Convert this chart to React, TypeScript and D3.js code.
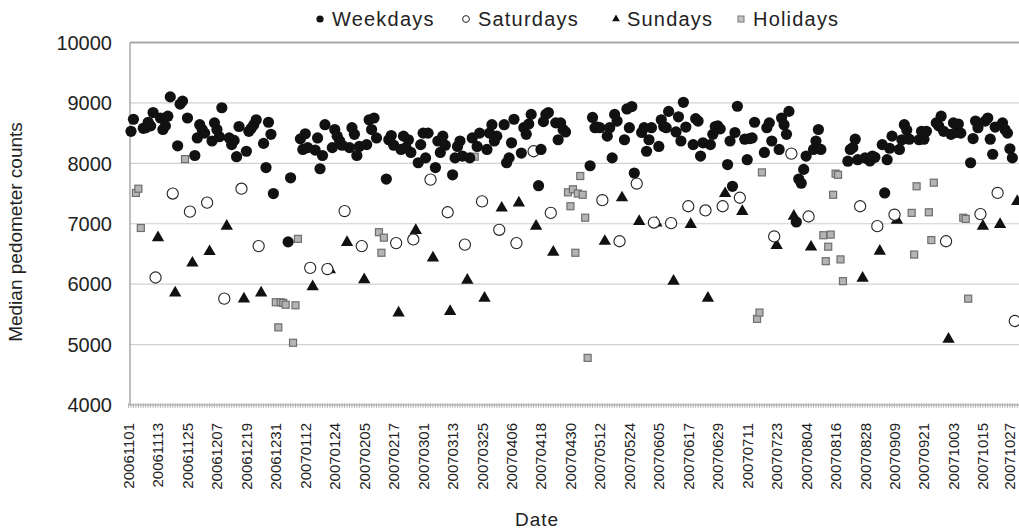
import React, { useEffect, useRef } from "react";
import * as d3 from "d3";

// daily medians, Nov 2006 - Oct 2007
const firstMonday = "20061030";

// one row per week, Mon..Fri (null = holiday / no weekday point)
const weekdayRows: (number | null)[][] = [
  [null, null, 8530, 8730, null],
  [8580, 8590, 8680, 8620, 8840],
  [8750, 8560, 8620, 8780, 9100],
  [8290, 8980, 9030, null, 8750],
  [8130, 8420, 8640, 8560, 8500],
  [8370, 8670, 8560, 8440, 8920],
  [8420, 8310, 8380, 8110, 8610],
  [8200, 8530, 8580, 8640, 8720],
  [8330, 7930, 8680, 8480, 7500],
  [null, null, null, 6700, 7760],
  [null, 8405, 8230, 8490, 8260],
  [8220, 8420, 7910, 8130, 8640],
  [8260, 8560, 8450, 8370, 8300],
  [8260, 8590, 8480, 8130, 8280],
  [8310, 8720, 8560, 8750, 8420],
  [null, 7740, 8390, 8460, 8300],
  [8230, 8450, 8260, 8390, 8180],
  [8010, 8310, 8500, 8090, 8500],
  [7930, 8370, 8180, 8450, 8300],
  [7810, 8090, 8280, 8370, 8120],
  [8090, 8420, null, 8280, 8500],
  [8230, 8500, 8640, 8370, 8450],
  [8640, 8010, 8090, 8340, 8730],
  [8170, 8590, 8480, 8650, 8810],
  [7630, 8230, 8690, 8810, 8840],
  [8670, 8390, 8670, 8560, 8520],
  [null, null, null, null, null],
  [7960, 8760, 8590, 8600, 8590],
  [8450, 8590, 8090, 8810, 8700],
  [8390, 8900, 8590, 8940, 7840],
  [8510, 8590, 8200, 8390, 8590],
  [8280, 8720, 8610, 8590, 8860],
  [8520, 8770, 8370, 9010, 8600],
  [8310, 8740, 8700, 8120, 8340],
  [8310, 8480, 8610, 8620, 8570],
  [7980, 8370, 7620, 8510, 8945],
  [8400, 8060, 8410, 8420, 8680],
  [null, 8180, 8590, 8670, 8370],
  [8230, 8750, 8640, 8480, 8860],
  [7030, 7740, 7670, 7900, 8120],
  [8230, 8370, 8560, 8230, null],
  [null, null, null, null, null],
  [8035, 8230, 8260, 8400, 8060],
  [8090, 8075, 8040, 8120, 8100],
  [8310, 7510, 8060, 8250, 8450],
  [8230, 8390, 8640, 8550, 8400],
  [null, 8390, 8530, 8400, 8530],
  [null, 8670, 8620, 8780, 8530],
  [8480, 8670, 8510, 8650, 8500],
  [null, 8010, 8410, 8700, 8590],
  [8700, 8750, 8400, 8150, 8600],
  [8670, 8560, 8500, 8240, 8090],
];

// one value per week, starting Sat 20061104 / Sun 20061105
const saturdayValues: (number | null)[] = [
  null, 6110, 7500, 7200, 7350, 5760, 7580, 6630, null, null, 6270, 6250, 7210,
  6630, null, 6680, 6740, 7730, 7190, 6655, 7370, 6900, 6680, 8200, 7180, null,
  null, 7390, 6710, 7665, 7020, 7010, 7290, 7220, 7290, 7430, null, 6790, 8160,
  7120, null, null, 7290, 6960, 7150, null, null, 6710, null, 7160, 7510, 5390,
];
const sundayValues: (number | null)[] = [
  null, 6770, 5855, 6350, 6540, 6960, 5755, 5855, null, null, 5960, 6240, 6690,
  6075, null, 5525, 6890, 6435, 5550, 6065, 5770, 7260, 7345, 6960, 6530, null,
  null, 6710, 7430, 7040, 7015, 6050, 6990, 5770, 7500, 7205, null, 6640, 7125,
  6615, null, null, 6100, 6545, 7060, null, null, 5090, null, 6960, 6990, 7370,
];

const holidayPoints: [string, number][] = [
  ["20061103", 7510], ["20061104", 7580], ["20061105", 6930], ["20061123", 8070],
  ["20061230", 5700], ["20061231", 5285], ["20070101", 5700], ["20070102", 5690],
  ["20070103", 5660], ["20070106", 5030], ["20070107", 5650], ["20070108", 6750],
  ["20070210", 6860], ["20070211", 6520], ["20070212", 6770], ["20070321", 8110],
  ["20070428", 7520], ["20070429", 7290], ["20070430", 7570], ["20070501", 6520],
  ["20070502", 7500], ["20070503", 7790], ["20070504", 7480], ["20070505", 7100],
  ["20070506", 4780], ["20070714", 5425], ["20070715", 5530], ["20070716", 7850],
  ["20070810", 6810], ["20070811", 6380], ["20070812", 6620], ["20070813", 6820],
  ["20070814", 7480], ["20070815", 7830], ["20070816", 7810], ["20070817", 6410],
  ["20070818", 6050], ["20070915", 7180], ["20070916", 6490], ["20070917", 7620],
  ["20070922", 7190], ["20070923", 6730], ["20070924", 7680], ["20071006", 7100],
  ["20071007", 7080], ["20071008", 5760],
];

const yTicks = [4000, 5000, 6000, 7000, 8000, 9000, 10000];
const tickStart = "20061101";
const tickEnd = "20071027";
const tickStepDays = 12;
const legendLabels = ["Weekdays", "Saturdays", "Sundays", "Holidays"];

const FONT = "'Liberation Sans', Arial, sans-serif";

export default function App() {
  const ref = useRef<SVGSVGElement | null>(null);

  useEffect(() => {
    const width = 1019;
    const parse = d3.timeParse("%Y%m%d");
    const fmt = d3.timeFormat("%Y%m%d");
    const start = parse(tickStart) as Date;
    const end = parse(tickEnd) as Date;
    const monday = parse(firstMonday) as Date;

    const x = d3.scaleTime().domain([start, end]).range([131, 1014.8]);
    const y = d3.scaleLinear().domain([4000, 10000]).range([405, 42.5]);

    const svg = d3.select(ref.current);
    svg.selectAll("*").remove();

    // gridlines
    svg
      .append("g")
      .selectAll("line")
      .data(yTicks.filter((t) => t > 4000 && t < 10000))
      .join("line")
      .attr("x1", 130)
      .attr("x2", width)
      .attr("y1", (d) => y(d))
      .attr("y2", (d) => y(d))
      .attr("stroke", "#d0d0d0")
      .attr("stroke-width", 1.2);

    // frame: top + left
    svg.append("line").attr("x1", 130).attr("x2", width).attr("y1", y(10000)).attr("y2", y(10000))
      .attr("stroke", "#a8a8a8").attr("stroke-width", 2);
    svg.append("line").attr("x1", 130).attr("x2", 130).attr("y1", y(10000)).attr("y2", 406)
      .attr("stroke", "#a8a8a8").attr("stroke-width", 1.5);

    // bottom axis with a tick per day
    const days = d3.timeDay.range(d3.timeDay.offset(start, -1), d3.timeDay.offset(end, 5));
    svg.append("line").attr("x1", 130).attr("x2", width).attr("y1", 405).attr("y2", 405)
      .attr("stroke", "#b0b0b0").attr("stroke-width", 1.5);
    svg
      .append("g")
      .selectAll("line")
      .data(days)
      .join("line")
      .attr("x1", (d) => x(d))
      .attr("x2", (d) => x(d))
      .attr("y1", 403)
      .attr("y2", 408)
      .attr("stroke", "#b8b8b8")
      .attr("stroke-width", 1);

    // y tick labels
    svg
      .append("g")
      .selectAll("text")
      .data(yTicks)
      .join("text")
      .attr("x", 112)
      .attr("y", (d) => y(d))
      .attr("dy", "0.36em")
      .attr("text-anchor", "end")
      .attr("font-family", FONT)
      .attr("font-size", 20)
      .attr("fill", "#222")
      .text((d) => String(d));

    // x tick labels (baseline kept inside the picture for the last one)
    const tickDates = d3.range(0, d3.timeDay.count(start, end) + 1, tickStepDays).map((n) => d3.timeDay.offset(start, n));
    svg
      .append("g")
      .selectAll("text")
      .data(tickDates)
      .join("text")
      .attr("transform", (d) => `translate(${Math.min(x(d) + 3, 1014.5)},423) rotate(-90)`)
      .attr("text-anchor", "end")
      .attr("font-family", FONT)
      .attr("font-size", 15)
      .attr("fill", "#222")
      .text((d) => fmt(d));

    // axis titles
    svg.append("text").attr("x", 537).attr("y", 526).attr("text-anchor", "middle")
      .attr("font-family", FONT).attr("font-size", 19).attr("fill", "#222").attr("letter-spacing", 1).text("Date");
    svg.append("text").attr("transform", "translate(22,232) rotate(-90)").attr("text-anchor", "middle")
      .attr("font-family", FONT).attr("font-size", 19).attr("fill", "#222").text("Median pedometer counts");

    // data points
    const weekdayPts: [Date, number][] = [];
    weekdayRows.forEach((row, w) =>
      row.forEach((v, i) => {
        if (v != null) weekdayPts.push([d3.timeDay.offset(monday, w * 7 + i), v]);
      }),
    );
    const satPts: [Date, number][] = [];
    saturdayValues.forEach((v, k) => {
      if (v != null) satPts.push([d3.timeDay.offset(monday, k * 7 + 5), v]);
    });
    const sunPts: [Date, number][] = [];
    sundayValues.forEach((v, k) => {
      if (v != null) sunPts.push([d3.timeDay.offset(monday, k * 7 + 6), v]);
    });
    const holPts: [Date, number][] = holidayPoints.map(([d, v]) => [parse(d) as Date, v]);

    const plot = svg.append("g");
    const tri = d3.symbol().type(d3.symbolTriangle).size(66);

    plot.append("g").selectAll("rect").data(holPts).join("rect")
      .attr("x", (d) => x(d[0]) - 3.5).attr("y", (d) => y(d[1]) - 3.5)
      .attr("width", 7).attr("height", 7)
      .attr("fill", "#b4b4b4").attr("stroke", "#6e6e6e").attr("stroke-width", 1.2);

    plot.append("g").selectAll("path").data(sunPts).join("path")
      .attr("transform", (d) => `translate(${x(d[0])},${y(d[1])})`)
      .attr("d", tri as any).attr("fill", "#111");

    plot.append("g").selectAll("circle").data(satPts).join("circle")
      .attr("cx", (d) => x(d[0])).attr("cy", (d) => y(d[1])).attr("r", 5.6)
      .attr("fill", "white").attr("stroke", "#222").attr("stroke-width", 1.1);

    plot.append("g").selectAll("circle").data(weekdayPts).join("circle")
      .attr("cx", (d) => x(d[0])).attr("cy", (d) => y(d[1])).attr("r", 5.6)
      .attr("fill", "#111");

    // legend
    const legendMarkX = [320, 466, 616, 741];
    const legendTextX = [332, 478, 627, 753];
    const lg = svg.append("g");
    legendLabels.forEach((label, i) => {
      const cy = 19;
      if (i === 0) lg.append("circle").attr("cx", legendMarkX[i]).attr("cy", cy).attr("r", 3.6).attr("fill", "#111");
      if (i === 1) lg.append("circle").attr("cx", legendMarkX[i]).attr("cy", cy).attr("r", 3.4).attr("fill", "white").attr("stroke", "#222");
      if (i === 2) lg.append("path").attr("transform", `translate(${legendMarkX[i]},${cy})`)
        .attr("d", d3.symbol().type(d3.symbolTriangle).size(26)() as string).attr("fill", "#111");
      if (i === 3) lg.append("rect").attr("x", legendMarkX[i] - 3).attr("y", cy - 3).attr("width", 6).attr("height", 6)
        .attr("fill", "#c4c4c4").attr("stroke", "#777");
      lg.append("text").attr("x", legendTextX[i]).attr("y", cy).attr("dy", "0.36em")
        .attr("font-family", FONT).attr("font-size", 20).attr("letter-spacing", 1.2).attr("fill", "#222").text(label);
    });
  }, []);

  return (
    <svg
      ref={ref}
      width={1019}
      height={530}
      style={{ position: "absolute", left: 0, top: 0, background: "white" }}
    />
  );
}
